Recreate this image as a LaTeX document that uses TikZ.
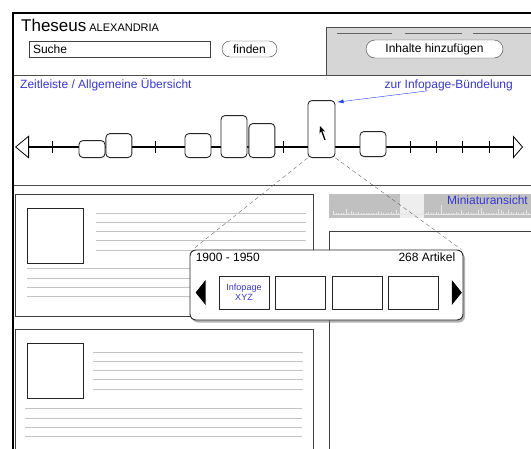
\documentclass[tikz,border=0pt]{standalone}
\usepackage{fontspec}
\setmainfont{Liberation Sans}
\usetikzlibrary{positioning,shadows,arrows.meta,calc}
\definecolor{panelgray}{RGB}{214,214,214}
\definecolor{minigray}{RGB}{192,192,192}
\definecolor{winwhite}{RGB}{238,238,238}
\definecolor{barlight}{RGB}{230,230,230}
\definecolor{linegray}{RGB}{195,195,195}
\definecolor{tlblue}{RGB}{55,55,205}
\definecolor{arrowblue}{RGB}{35,65,245}
\tikzset{
  field/.style  = {draw=black!75, thin, fill=white, rectangle, inner ysep=0pt, inner xsep=4pt},
  button/.style = {draw=black!75, thin, fill=white, rounded corners=8pt, inner sep=0pt, minimum height=16pt},
  tbox/.style   = {draw=black!85, line width=0.9pt, fill=white, rounded corners=4pt, minimum width=26pt, inner sep=0pt, anchor=south},
  card/.style   = {draw=black!75, thin, fill=white, inner sep=0pt},
  imgbox/.style = {draw=black!85, line width=0.8pt, fill=white, minimum width=56pt, minimum height=55pt, inner sep=0pt},
  txtline/.style = {draw=linegray, line width=0.9pt},
  thumb/.style  = {draw=black!85, line width=0.8pt, fill=white, minimum width=50pt, minimum height=33pt, inner sep=0pt, align=center},
  bluelabel/.style = {text=tlblue, inner sep=0pt}
}

\begin{document}
\begin{tikzpicture}[x=1pt, y=-1pt, font=\fontsize{12}{14}\selectfont]
\useasboundingbox (0,0) rectangle (531,448);
\clip (0,0) rectangle (531,448);
% header
\node [anchor=base west, inner sep=0pt] (title) at (21,31) {{\fontsize{17}{17}\selectfont Theseus}\hspace{3pt}{\fontsize{11}{11}\selectfont ALEXANDRIA}};
\fill [panelgray] (326,27) rectangle (540,75);
\draw [thin, black!70] (540,27) -| (326,75);
\foreach \xa/\xb in {337/392,405/462,473/540}
  \draw [black!60, line width=1pt] (\xa,33) -- (\xb,33);
\node [field, minimum width=181pt, minimum height=16pt, text width=173pt, align=left] (search) at (119.5,49) {Suche};
\node [button, minimum width=55pt] (find) at (249.5,49) {finden};
\node [button, minimum width=137pt, minimum height=18pt, rounded corners=9pt] (add) at (434.5,49) {Inhalte hinzufügen};
\draw [thin, black!70] (14,75) -- (540,75);
\draw [thin, black!70] (14,185) -- (540,185);
% timeline
\node [bluelabel, anchor=west] (tllabel) at (20,85) {Zeitleiste / Allgemeine Übersicht};
\node [bluelabel, anchor=east] (bundle) at (513,85) {zur Infopage-Bündelung};
\coordinate (axl) at (15,147);
\coordinate (axr) at (523,147);
\draw [line width=1.5pt, {Triangle[open,length=14pt,width=23pt,line width=0.8pt]}-{Triangle[open,length=10pt,width=23pt,line width=0.8pt]}] (axl) -- (axr);
\foreach \tx in {52,155,283,410,436,462,489}
  \draw [line width=0.8pt] (\tx,141) -- (\tx,153);
\node [tbox, minimum height=17pt] (t1) at (92,158) {};
\node [tbox, minimum height=24pt, anchor=south west] (t2) at (t1.south east) {};
\node [tbox, minimum height=24pt] (t3) at (198,158) {};
\node [tbox, minimum height=42pt] (t4) at (234,158) {};
\node [tbox, minimum height=34pt, anchor=south west] (t5) at ([xshift=1pt]t4.south east) {};
\node [tbox, minimum width=27pt, minimum height=57pt] (sel) at (321.5,158) {};
\node [tbox, minimum height=25pt] (t6) at (373,157) {};
% mouse pointer
\draw [line width=1.3pt, -{Stealth[length=7pt,width=6pt]}] (325,140) -- (320,126);
\draw [arrowblue, thin, -{Latex[length=6pt,width=4pt]}] ([xshift=-21pt]bundle.south) -- ([xshift=2pt,yshift=-2pt]sel.north east);
% article cards
\node [card, minimum width=298pt, minimum height=122pt, anchor=north west] (card1) at (15,194) {};
\node [card, minimum width=298pt, minimum height=140pt, anchor=north west] (card2) at (15,329) {};
\node [imgbox, anchor=north west] (img1) at ([xshift=12pt,yshift=-14pt]card1.north west) {};
\node [imgbox, anchor=north west] (img2) at ([xshift=12pt,yshift=-14pt]card2.north west) {};
\foreach \k in {0,...,4} {
  \draw [txtline] ([xshift=12pt,yshift={-5pt-9.3pt*\k}]img1.north east) -- ++(210,0);
  \draw [txtline] ([xshift=9pt,yshift={-9pt-9.3pt*\k}]img2.north east) -- ++(210,0);
}
\foreach \k in {0,...,3} {
  \draw [txtline] ([yshift={-5pt-9.3pt*\k}]img1.south west) -- ++(278,0);
  \draw [txtline] ([xshift=-2pt,yshift={-10pt-9.3pt*\k}]img2.south west) -- ++(277,0);
}
% miniature view
\node [fill=minigray, minimum width=210pt, minimum height=24pt, inner sep=0pt, anchor=north west] (mini) at (329,194) {};
\fill [winwhite] (400,194) rectangle (424,218);
\pgfmathsetseed{11}
\foreach \i in {0,...,78} {
  \pgfmathsetmacro\hh{0.8+9*rnd*rnd*rnd}
  \fill [barlight] (333+2.5*\i,214) rectangle ++(1.3,-\hh);
}
\draw [barlight, thin] (333,214) -- (531,214);
\node [bluelabel, anchor=north east] (minilabel) at (528,195.5) {Miniaturansicht};
\node [card, minimum width=215pt, minimum height=230pt, anchor=north west] (detail) at (329,231) {};
% popup
\node [draw=black!85, line width=0.9pt, fill=white, rounded corners=6pt, minimum width=273pt, minimum height=70pt, inner sep=0pt,
  drop shadow={shadow xshift=2pt, shadow yshift=-2.5pt, opacity=0.6}] (popup) at (326.5,285) {};
\draw [dash pattern=on 4pt off 3pt, black!60, thin] (sel.south west) -- ([xshift=3pt]popup.north west);
\draw [dash pattern=on 4pt off 3pt, black!60, thin] (sel.south east) -- ([xshift=-2pt]popup.north east);
\node [anchor=north west, inner sep=0pt] (range) at ([xshift=6pt,yshift=-3pt]popup.north west) {1900 - 1950};
\node [anchor=north east, inner sep=0pt] (count) at ([xshift=-8pt,yshift=-3pt]popup.north east) {268 Artikel};
\node [thumb, font=\fontsize{9}{10}\selectfont, text=tlblue] (p1) at (244,292.5) {Infopage\\XYZ};
\node [thumb, right=6pt of p1] (p2) {};
\node [thumb, right=6pt of p2] (p3) {};
\node [thumb, right=5pt of p3] (p4) {};
\coordinate (prev) at ([xshift=-13pt]p1.west);
\coordinate (next) at ([xshift=13pt]p4.east);
\fill (prev) ++(0,-12.5) -- ++(0,25) -- ++(-10,-12.5) -- cycle;
\fill (next) ++(0,-12.5) -- ++(0,25) -- ++(10,-12.5) -- cycle;
% outer frame
\draw [line width=2pt] (13,460) -- (13,13) -- (540,13);
\end{tikzpicture}
\end{document}
